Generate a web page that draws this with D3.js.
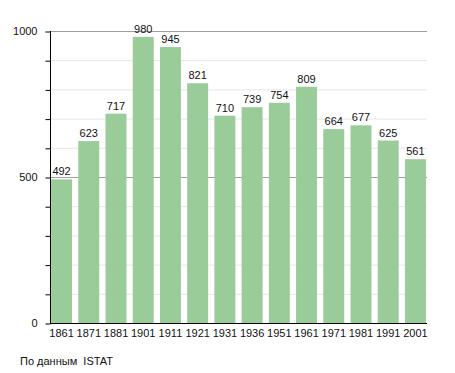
<!DOCTYPE html>
<html>
<head>
<meta charset="utf-8">
<script src="https://cdn.jsdelivr.net/npm/d3@7"></script>
<style>
body { margin: 0; background: #fff; }
text { font-family: "Liberation Sans", Arial, sans-serif; }
</style>
</head>
<body>
<div id="canvas"></div>
<script>
const years = ["1861", "1871", "1881", "1901", "1911", "1921", "1931", "1936", "1951", "1961", "1971", "1981", "1991", "2001"];
const population = [492, 623, 717, 980, 945, 821, 710, 739, 754, 809, 664, 677, 625, 561];
const majorTicks = [0, 500, 1000];
const minorTicks = [100, 200, 300, 400, 600, 700, 800, 900];
const source = "По данным  ISTAT";

const svg = d3.select("#canvas")
.append("svg")
.attr("width", 455)
.attr("height", 373);

const x = d3.scaleBand()
.domain(years)
.range([50, 427])
.paddingInner(0.23)
.paddingOuter(0.04);

const y = d3.scaleLinear()
.domain([0, 1000])
.range([323, 31]);

// grid lines
svg.selectAll(".minor")
.data(minorTicks)
.enter().append("line")
.attr("x1", 50).attr("x2", 427)
.attr("y1", d => y(d) + 0.5).attr("y2", d => y(d) + 0.5)
.attr("stroke", "#e6e6e6");

svg.selectAll(".major")
.data(majorTicks.slice(1))
.enter().append("line")
.attr("x1", 50).attr("x2", 427)
.attr("y1", d => y(d) + 0.5).attr("y2", d => y(d) + 0.5)
.attr("stroke", "#a0a0a0");

// bars
svg.selectAll(".bar")
.data(population)
.enter().append("rect")
.attr("x", (d, i) => x(years[i]))
.attr("y", d => y(d))
.attr("width", x.bandwidth())
.attr("height", d => y(0) - y(d))
.attr("fill", "#99cc99");

svg.selectAll(".val")
.data(population)
.enter().append("text")
.attr("x", (d, i) => x(years[i]) + x.bandwidth() / 2)
.attr("y", d => y(d) - 4)
.attr("text-anchor", "middle")
.attr("font-size", 11)
.attr("fill", "#111")
.text(d => d);

// y axis
const yAxis = d3.axisLeft(y)
.tickValues(majorTicks.concat(minorTicks))
.tickSize(5)
.tickFormat(d => majorTicks.includes(d) ? d : "");
const ga = svg.append("g")
.attr("transform", "translate(50.5,0)")
.call(yAxis);
ga.select(".domain").attr("stroke", "#000").attr("d", "M0," + y(1000) + "V" + (y(0) + 0.5));
ga.selectAll(".tick line").attr("stroke", "#000").attr("transform", "translate(0,0.5)");
ga.selectAll(".tick text").attr("x", -13).attr("font-size", 11).attr("fill", "#111")
.attr("font-family", "Liberation Sans, Arial, sans-serif");

// x axis
const xAxis = d3.axisBottom(x).tickSize(0).tickPadding(6);
const gx = svg.append("g")
.attr("transform", "translate(0," + (y(0) + 0.5) + ")")
.call(xAxis);
gx.select(".domain").attr("stroke", "#000").attr("d", "M50,0H427");
gx.selectAll(".tick text").attr("font-size", 11).attr("fill", "#111")
.attr("font-family", "Liberation Sans, Arial, sans-serif");

svg.append("text")
.attr("x", 20)
.attr("y", 365)
.attr("font-size", 11)
.attr("fill", "#111")
.style("white-space", "pre")
.text(source);
</script>
</body>
</html>
